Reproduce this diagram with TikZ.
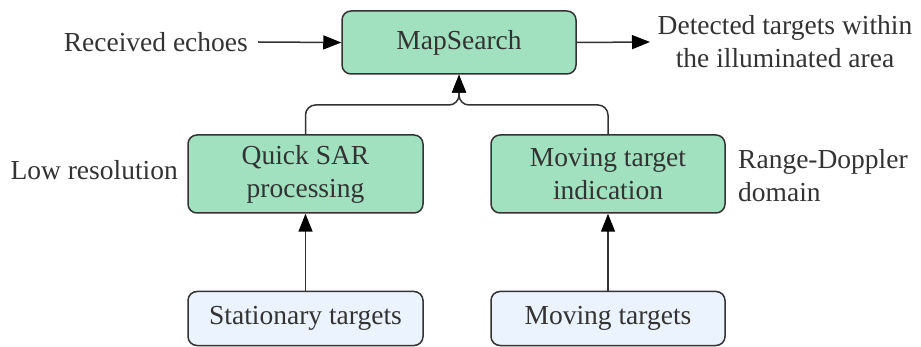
\documentclass[tikz,border=0pt]{standalone}
\usepackage{fontspec}
\setmainfont{Liberation Serif}
\usetikzlibrary{arrows.meta,calc}
\definecolor{txt}{HTML}{333333}
\definecolor{greenbox}{HTML}{A1E1BF}
\definecolor{bluebox}{HTML}{EBF3FE}
\definecolor{edge}{HTML}{333333}
\tikzset{
  base/.style={draw=edge, line width=1.5pt, rounded corners=9pt, align=center,
    text=txt, font=\fontsize{27.5}{33}\selectfont, inner sep=0pt},
  greenstep/.style={base, fill=greenbox},
  bluestep/.style={base, fill=bluebox},
  lbl/.style={text=txt, font=\fontsize{27.5}{33}\selectfont, align=center, inner sep=0pt},
  conn/.style={draw=edge, line width=1.5pt, -{Triangle[length=18pt,width=14pt,color=black]}},
}
\begin{document}
\begin{tikzpicture}[x=1pt,y=-1pt]
\useasboundingbox (0,0) rectangle (921,347);
\node[greenstep, minimum width=234pt, minimum height=63pt] (map) at (459,42.5) {MapSearch};
\node[greenstep, minimum width=235pt, minimum height=78pt] (qsar) at (305.5,174) {Quick SAR\\processing};
\node[greenstep, minimum width=234pt, minimum height=78pt] (mti) at (608,174) {Moving target\\indication};
\node[bluestep, minimum width=235pt, minimum height=54pt] (stat) at (305.5,318.5) {Stationary targets};
\node[bluestep, minimum width=234pt, minimum height=54pt] (mov) at (608,318.5) {Moving targets};
\node[lbl, anchor=east] (rx) at (248,42) {Received echoes};
\node[lbl] (det) at (785,42) {Detected targets within\\the illuminated area};
\node[lbl, anchor=east] (lowres) at (178,170) {Low resolution};
\node[lbl, anchor=west, align=left] (rd) at (738,176) {Range-Doppler\\domain};
\coordinate (join) at (459,105);
\draw[conn] (rx.east) ++(10,0) -- (map.west);
\draw[conn] (map.east) -- (det.west -| 650,0);
\draw[conn, rounded corners=10pt] (qsar.north) |- (join) -- (map.south);
\draw[conn, rounded corners=10pt] (mti.north) |- (join) -- (map.south);
\draw[conn] (stat.north) -- (qsar.south);
\draw[conn] (mov.north) -- (mti.south);
\end{tikzpicture}
\end{document}
